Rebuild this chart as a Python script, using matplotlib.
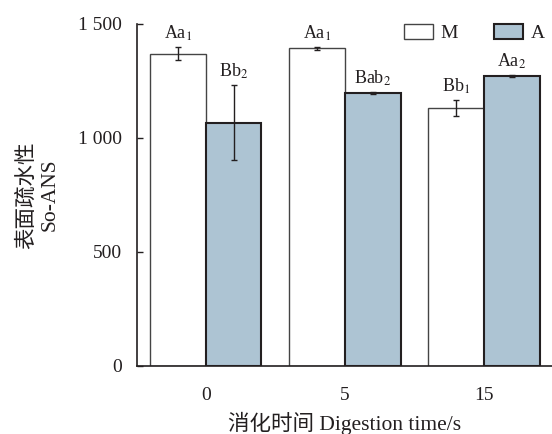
import numpy as np
import matplotlib
matplotlib.use("Agg")
import matplotlib.pyplot as plt
from matplotlib.patches import Patch

plt.rcParams['font.family'] = ['Liberation Serif', 'Noto Sans CJK SC']
plt.rcParams['mathtext.fontset'] = 'stix'

# data
times = ["0", "5", "15"]
m_vals = [1370, 1392, 1132]
m_err = [27, 7, 35]
a_vals = [1066, 1197, 1272]
a_err = [164, 5, 5]
m_marks = ["Aa$_1$", "Aa$_1$", "Bb$_1$"]
a_marks = ["Bb$_2$", "Bab$_2$", "Aa$_2$"]
yticks = [0, 500, 1000, 1500]
ytick_labels = ["0", "500", "1 000", "1 500"]

txt = "#231f20"
a_color = "#adc4d3"

fig = plt.figure(figsize=(5.52, 4.34), dpi=100)
ax = fig.add_axes([0.248, 0.157, 0.752, 0.788])

x = np.arange(len(times))
w = 0.4
ax.bar(x - w / 2, m_vals, w, color="white", edgecolor="#444444", linewidth=1.0,
       yerr=m_err, error_kw=dict(ecolor=txt, elinewidth=1, capsize=2.5, capthick=1))
ax.bar(x + w / 2, a_vals, w, color=a_color, edgecolor=txt, linewidth=1.5,
       yerr=a_err, error_kw=dict(ecolor=txt, elinewidth=1, capsize=2.5, capthick=1))

for i in range(len(times)):
    ax.annotate(m_marks[i], (x[i] - w / 2, m_vals[i] + m_err[i]), xytext=(0, 3),
                textcoords="offset points", ha="center", va="bottom", fontsize=13, color=txt)
    ax.annotate(a_marks[i], (x[i] + w / 2, a_vals[i] + a_err[i]), xytext=(0, 3),
                textcoords="offset points", ha="center", va="bottom", fontsize=13, color=txt)

ax.set_xlim(-0.496, 2.489)
ax.set_ylim(0, 1500)
ax.set_xticks(x)
ax.set_xticklabels(times)
ax.set_yticks(yticks)
ax.set_yticklabels(ytick_labels)
ax.tick_params(axis="x", length=0, pad=15, labelsize=14, colors=txt)
ax.tick_params(axis="y", direction="in", length=4, width=1, pad=11, labelsize=14, colors=txt)

for s in ["top", "right"]:
    ax.spines[s].set_visible(False)
for s in ["left", "bottom"]:
    ax.spines[s].set_color(txt)
    ax.spines[s].set_linewidth(1.2)

ax.set_xlabel("消化时间 Digestion time/s", fontsize=15.5, color=txt)
ax.xaxis.set_label_coords(0.5, -0.135)
ax.set_ylabel("表面疏水性\nSo-ANS", fontsize=15.5, color=txt, linespacing=1.3)
ax.yaxis.set_label_coords(-0.186, 0.5)

handles = [Patch(facecolor="white", edgecolor="#444444", linewidth=1.0),
           Patch(facecolor=a_color, edgecolor=txt, linewidth=1.5)]
ax.legend(handles, ["M", "A"], ncol=2, frameon=False, loc="upper left",
          bbox_to_anchor=(0.643, 1.0), borderpad=0, borderaxespad=0,
          handlelength=1.5, handleheight=0.8, handletextpad=0.4, columnspacing=1.85,
          fontsize=14, labelcolor=txt)

fig.savefig("out.png", dpi=100)
